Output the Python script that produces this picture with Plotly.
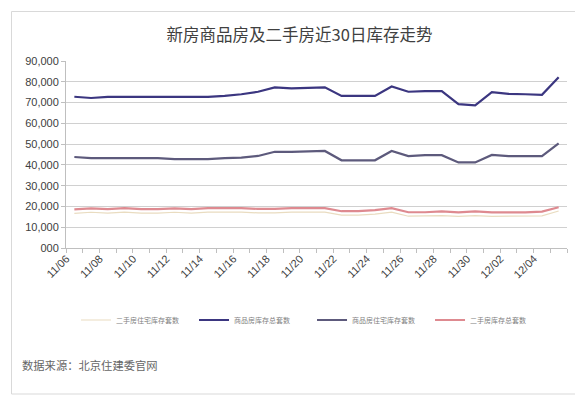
import plotly.graph_objects as go

dates = ["11/06", "11/07", "11/08", "11/09", "11/10", "11/11", "11/12", "11/13", "11/14", "11/15",
         "11/16", "11/17", "11/18", "11/19", "11/20", "11/21", "11/22", "11/23", "11/24", "11/25",
         "11/26", "11/27", "11/28", "11/29", "11/30", "12/01", "12/02", "12/03", "12/04", "12/05"]

second_res = [16700, 17200, 16800, 17300, 16800, 16800, 17200, 16800, 17300, 17300,
              17300, 16900, 16900, 17300, 17300, 17300, 15800, 15800, 16300, 17300,
              15300, 15300, 15600, 15200, 15600, 15200, 15200, 15200, 15500, 17800]
new_total = [72800, 72200, 72700, 72700, 72700, 72700, 72700, 72700, 72700, 73200,
             74000, 75200, 77300, 76800, 77000, 77300, 73200, 73200, 73200, 77700,
             75200, 75500, 75500, 69200, 68700, 75000, 74200, 74000, 73700, 82200]
new_res = [43800, 43300, 43300, 43300, 43300, 43300, 42800, 42800, 42800, 43300,
           43500, 44300, 46300, 46300, 46500, 46700, 42200, 42200, 42200, 46700,
           44200, 44700, 44700, 41200, 41200, 44800, 44200, 44200, 44200, 50300]
second_total = [18600, 19100, 18700, 19200, 18700, 18700, 19100, 18700, 19200, 19200,
                19200, 18800, 18800, 19200, 19200, 19200, 17700, 17700, 18200, 19200,
                17200, 17200, 17600, 17100, 17600, 17100, 17100, 17100, 17500, 19600]

series_names = ["二手房住宅库存套数", "商品房库存总套数", "商品房住宅库存套数", "二手房库存总套数"]
y_tick_vals = [0, 10000, 20000, 30000, 40000, 50000, 60000, 70000, 80000, 90000]
y_tick_text = ["000", "10,000", "20,000", "30,000", "40,000", "50,000", "60,000", "70,000", "80,000", "90,000"]

title_text = "新房商品房及二手房近30日库存走势"
source_text = "数据来源：北京住建委官网"

idx = list(range(len(dates)))
label_idx = idx[::2]
label_text = dates[::2]
boundaries = [i - 0.5 for i in range(len(dates) + 1)]

cjk = "Noto Sans CJK SC"
latin = "Liberation Sans, Arial, sans-serif"

fig = go.Figure()
styles = [
    (second_res, "#e9dcc0", 1.2),
    (new_total, "#3b3680", 2.2),
    (new_res, "#5d5a7c", 2.2),
    (second_total, "#de8a90", 2.2),
]
for name, (vals, color, w) in zip(series_names, styles):
    fig.add_trace(go.Scatter(x=idx, y=vals, mode="lines", name=name,
                             line=dict(color=color, width=w)))

fig.update_layout(
    width=583, height=397,
    margin=dict(l=58, r=24, t=53, b=157),
    paper_bgcolor="white", plot_bgcolor="white",
    title=dict(text=title_text, x=0.5, xanchor="center", y=1 - 27 / 397, yanchor="middle",
               font=dict(family=cjk, size=16.5, color="#404040")),
    showlegend=True,
    legend=dict(orientation="h", x=0.02, xanchor="left", y=(240 - 312) / 187, yanchor="middle",
                font=dict(family=cjk, size=7, color="#7f7f7f"),
                entrywidth=73, entrywidthmode="pixels", itemwidth=30,
                bgcolor="rgba(0,0,0,0)"),
    xaxis=dict(range=[-0.5, len(dates) - 0.5], tickmode="array", tickvals=label_idx,
               ticktext=label_text, tickangle=-45, ticks="outside", ticklen=0,
               ticklabelshift=-8, ticklabelstandoff=-1,
               tickfont=dict(family=latin, size=11, color="#404040"),
               showgrid=False, zeroline=False, showline=True, linecolor="#bfbfbf", linewidth=1,
               minor=dict(tickmode="array", tickvals=boundaries, ticks="outside", ticklen=4,
                          tickcolor="#bfbfbf", tickwidth=1, showgrid=False)),
    yaxis=dict(range=[0, 90000], tickmode="array", tickvals=y_tick_vals, ticktext=y_tick_text,
               tickfont=dict(family=latin, size=11, color="#404040"),
               showgrid=True, gridcolor="#d0d0d0", gridwidth=1, zeroline=False,
               showline=True, linecolor="#bfbfbf", linewidth=1, ticks="outside", ticklen=4,
               tickcolor="#bfbfbf"),
)

fig.add_annotation(text=source_text, xref="paper", yref="paper", x=(12 - 58) / 501, y=(240 - 356.5) / 187,
                   xanchor="left", yanchor="middle", showarrow=False,
                   font=dict(family=cjk, size=11.3, color="#666666"))

fig.add_shape(type="rect", xref="paper", yref="paper",
              x0=(3.5 - 58) / 501, x1=(579.5 - 58) / 501,
              y0=(240 - 386) / 187, y1=(240 - 3.5) / 187,
              line=dict(color="#d9d9d9", width=1), fillcolor="rgba(0,0,0,0)", layer="below")

fig.write_html("out.html")
